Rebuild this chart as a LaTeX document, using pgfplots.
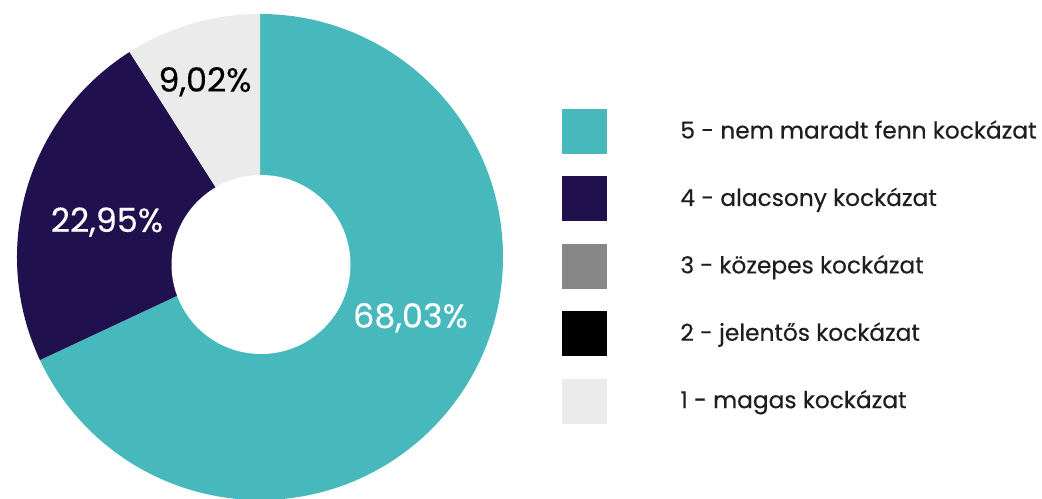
\documentclass[border=0pt]{standalone}
\usepackage{pgfplots}
\pgfplotsset{compat=1.18}
\usepackage{fontspec}
\setmainfont{Poppins}[FakeBold=0.35,BoldFont=Poppins,BoldFeatures={FakeBold=0.35}]
\definecolor{cteal}{HTML}{47B9BC}
\definecolor{cnavy}{HTML}{20104D}
\definecolor{cmid}{HTML}{878787}
\definecolor{cblack}{HTML}{000000}
\definecolor{clight}{HTML}{EBEBEB}
\definecolor{ctext}{HTML}{1E1E1E}
% shares (%), clockwise from 12 o'clock
\def\sFive{68.03}
\def\sFour{22.95}
\def\sThree{0}
\def\sTwo{0}
\def\sOne{9.02}
\begin{document}
\begin{tikzpicture}
\pgfmathsetmacro{\aA}{90}
\pgfmathsetmacro{\aB}{\aA-3.6*\sFive}
\pgfmathsetmacro{\aC}{\aB-3.6*\sFour}
\pgfmathsetmacro{\aD}{\aC-3.6*\sThree}
\pgfmathsetmacro{\aE}{\aD-3.6*\sTwo}
\pgfmathsetmacro{\aF}{\aE-3.6*\sOne}
\begin{axis}[
  x=1bp, y=1bp,
  xmin=0, xmax=1042, ymin=0, ymax=499,
  hide axis,
  clip=true,
  legend cell align=left,
  legend style={
    at={(axis cs:562,390)}, anchor=north west,
    draw=none, fill=none, inner sep=0pt, outer sep=0pt,
    row sep=23bp,
    nodes={inner sep=0pt, outer sep=0pt, text=ctext, font=\fontsize{23.4}{23.4}\selectfont},
  },
  legend image code/.code={
    \fill[#1] (0bp,-23bp) rectangle (44bp,21bp);
    \path (118bp,0bp);
  },
]
\fill[cteal] (axis cs:260,242) -- +(\aA:243bp) arc[start angle=\aA, end angle=\aB, radius=243bp] -- cycle;
\fill[cnavy] (axis cs:260,242) -- +(\aB:243bp) arc[start angle=\aB, end angle=\aC, radius=243bp] -- cycle;
\fill[clight] (axis cs:260,242) -- +(\aE:243bp) arc[start angle=\aE, end angle=\aF, radius=243bp] -- cycle;
\fill[white] (axis cs:261,234.5) circle[radius=89.5bp];
\node[anchor=base, text=white, font=\fontsize{33.5}{33.5}\selectfont] at (axis cs:410.5,171.3) {68,03\%};
\node[anchor=base, text=white, font=\fontsize{33.5}{33.5}\selectfont] at (axis cs:107,267) {22,95\%};
\node[anchor=base, text=black, font=\fontsize{33.5}{33.5}\selectfont] at (axis cs:205,407.3) {9,02\%};
\addlegendimage{cteal}
\addlegendentry{5 - nem maradt fenn kockázat}
\addlegendimage{cnavy}
\addlegendentry{4 - alacsony kockázat}
\addlegendimage{cmid}
\addlegendentry{3 - közepes kockázat}
\addlegendimage{cblack}
\addlegendentry{2 - jelentős kockázat}
\addlegendimage{clight}
\addlegendentry{1 - magas kockázat}
\end{axis}
\pgfresetboundingbox
\path (current axis.south west) rectangle (current axis.north east);
\end{tikzpicture}
\end{document}
